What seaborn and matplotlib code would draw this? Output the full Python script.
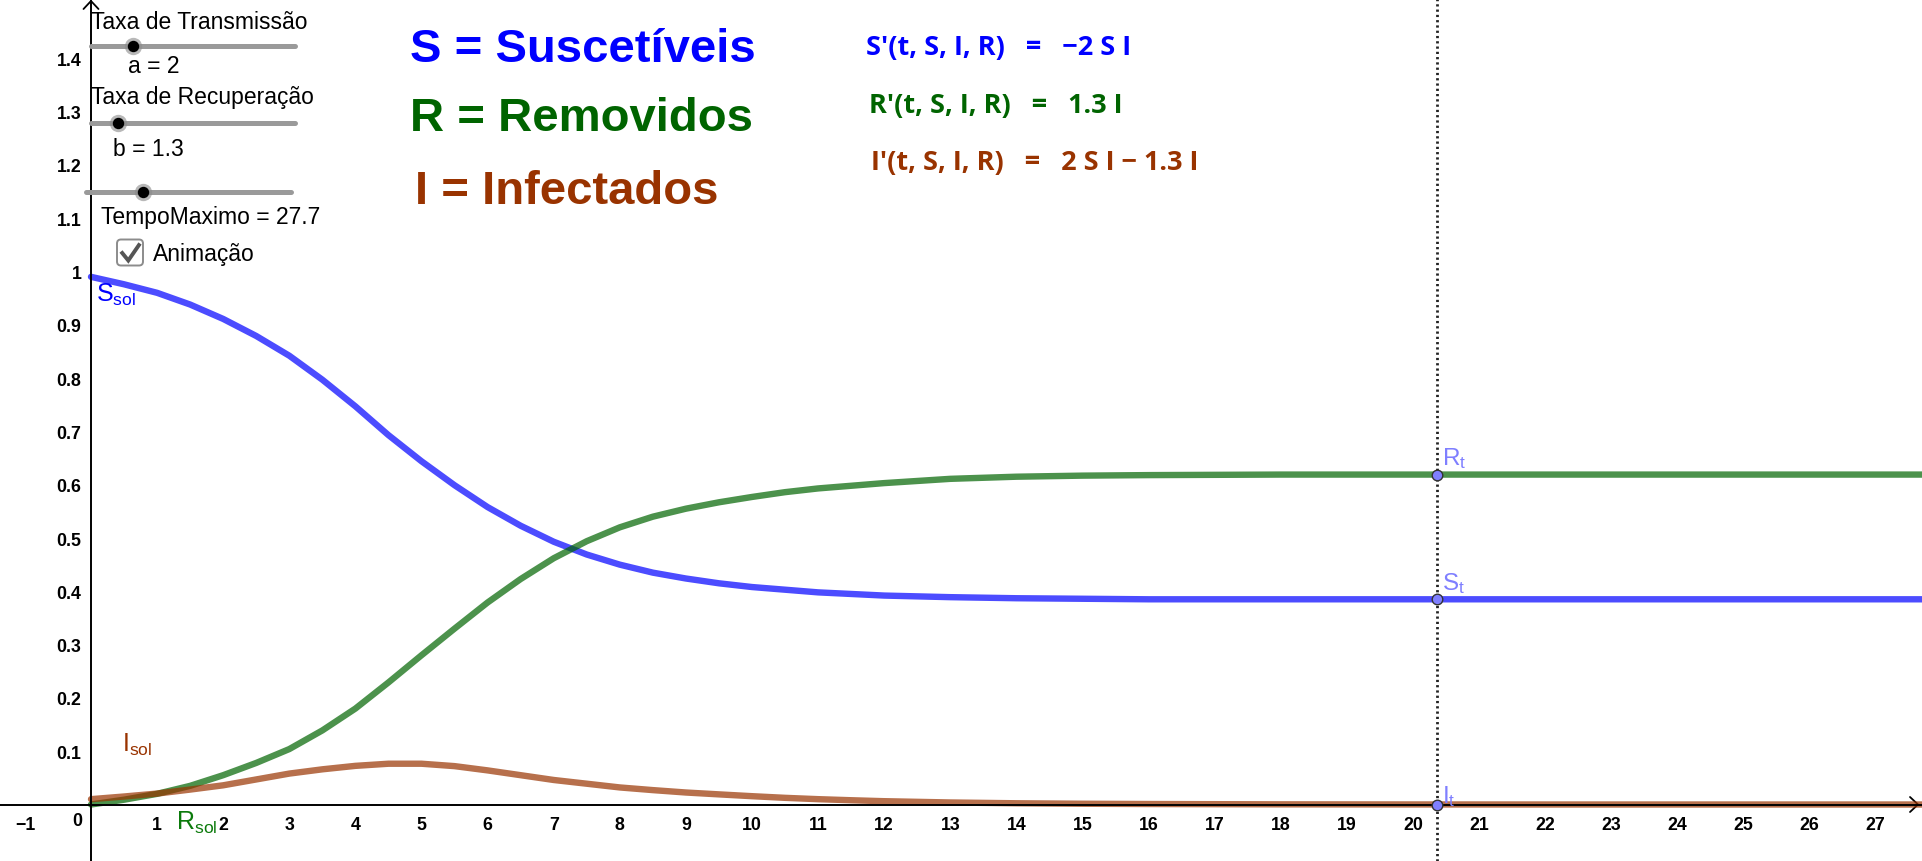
import numpy as np
import pandas as pd
import seaborn as sns
import matplotlib
matplotlib.use("Agg")
import matplotlib.pyplot as plt
from matplotlib.transforms import Affine2D
from matplotlib.patches import FancyBboxPatch

# ---------------- data ----------------
tempo = [0, 0.5, 1, 1.5, 2, 2.5, 3, 3.5, 4, 4.5, 5, 5.5, 6, 6.5, 7, 7.5, 8, 8.5,
         9, 9.5, 10, 10.5, 11, 11.5, 12, 13, 14, 15, 16, 18, 20, 22, 25, 27.7]
suscetiveis = [0.990, 0.976, 0.960, 0.938, 0.911, 0.879, 0.842, 0.797, 0.747, 0.693,
               0.644, 0.599, 0.558, 0.523, 0.493, 0.469, 0.450, 0.435, 0.424, 0.415,
               0.408, 0.403, 0.398, 0.395, 0.392, 0.389, 0.387, 0.386, 0.385, 0.385,
               0.385, 0.385, 0.385, 0.385]
infectados = [0.010, 0.015, 0.0205, 0.028, 0.036, 0.047, 0.058, 0.066, 0.0725, 0.0765,
              0.0765, 0.072, 0.064, 0.055, 0.046, 0.039, 0.032, 0.027, 0.0225, 0.019,
              0.0156, 0.0125, 0.010, 0.008, 0.0062, 0.0038, 0.0023, 0.0014, 0.0009,
              0.0003, 0.0001, 0.0, 0.0, 0.0]
removidos = [0.000, 0.009, 0.020, 0.035, 0.055, 0.078, 0.104, 0.139, 0.180, 0.229,
             0.280, 0.330, 0.379, 0.423, 0.462, 0.494, 0.520, 0.540, 0.555, 0.567,
             0.577, 0.586, 0.593, 0.598, 0.603, 0.611, 0.615, 0.617, 0.618, 0.619,
             0.619, 0.619, 0.619, 0.619]

ponto_t = [20.37]
ponto_S = [0.385]
ponto_R = [0.619]
ponto_I = [0.0]

x_ticks = [-1] + list(range(1, 28))
x_labels = ["\u22121"] + [str(v) for v in range(1, 28)]
y_ticks = [0.1, 0.2, 0.3, 0.4, 0.5, 0.6, 0.7, 0.8, 0.9, 1.0, 1.1, 1.2, 1.3, 1.4]
y_labels = ["0.1", "0.2", "0.3", "0.4", "0.5", "0.6", "0.7", "0.8", "0.9", "1",
            "1.1", "1.2", "1.3", "1.4"]

# ---------------- style ----------------
sns.set_theme(style="white")
plt.rcParams["font.family"] = ["Liberation Sans", "DejaVu Sans"]
plt.rcParams["mathtext.fontset"] = "custom"
plt.rcParams["mathtext.rm"] = "Liberation Sans"

W, H = 1922, 862
fig = plt.figure(figsize=(W / 100, H / 100), dpi=100)
ax = fig.add_axes([0, 0, 1, 1])
ax.set_facecolor("white")

X0, UX = 91.0, 66.1
Y0, UY = 805.5, 533.0
ax.set_xlim(-X0 / UX, (W - X0) / UX)
ax.set_ylim(-(H - Y0) / UY, Y0 / UY)

# pixel transform (origin top-left)
T = Affine2D().scale(1, -1).translate(0, H)

# axes through origin
for s in ["top", "right"]:
    ax.spines[s].set_visible(False)
ax.spines["left"].set_position(("data", 0))
ax.spines["bottom"].set_position(("data", 0))
for s in ["left", "bottom"]:
    ax.spines[s].set_color("black")
    ax.spines[s].set_linewidth(1.4)
ax.set_xticks(x_ticks)
ax.set_xticklabels(x_labels)
ax.set_yticks(y_ticks)
ax.set_yticklabels(y_labels)
ax.tick_params(axis="x", direction="out", length=3.5, width=1.2, color="black",
               pad=4.5, labelsize=12.8, labelcolor="black")
ax.tick_params(axis="y", direction="out", length=3.5, width=1.2, color="black",
               pad=3.5, labelsize=12.8, labelcolor="black")
for lab in ax.get_xticklabels() + ax.get_yticklabels():
    lab.set_fontweight("bold")
ax.text(77.7, 822, "0", transform=T, ha="center", va="center", fontsize=12.8,
        fontweight="bold", color="black")
# axis arrows
ax.plot([1910, 1918, 1910], [798, 805.5, 813], transform=T, color="black", lw=1.3,
        solid_joinstyle="miter", clip_on=False)
ax.plot([83.5, 91, 98.5], [10, 2, 10], transform=T, color="black", lw=1.3,
        solid_joinstyle="miter", clip_on=False)

# ---------------- curves ----------------
df = pd.DataFrame({
    "t": tempo * 3,
    "valor": suscetiveis + removidos + infectados,
    "serie": ["S"] * len(tempo) + ["R"] * len(tempo) + ["I"] * len(tempo),
})
paleta = {"S": "#0000FF", "R": "#006400", "I": "#993300"}
sns.lineplot(data=df, x="t", y="valor", hue="serie", palette=paleta, linewidth=4.6,
             alpha=0.7, legend=False, ax=ax, sort=False, estimator=None)
for ln in ax.get_lines():
    ln.set_solid_joinstyle("round")
ax.set_xlabel("")
ax.set_ylabel("")

# vertical dotted line and points
ax.axvline(ponto_t[0], color="#222222", lw=2.0, ls=(0, (0.8, 1.1)), zorder=3)
ax.plot(ponto_t * 3, ponto_R + ponto_S + ponto_I, ls="none", marker="o",
        markersize=7.6, markerfacecolor="#7F7FFF", markeredgecolor="#333333",
        markeredgewidth=1.0, zorder=5)
lab_col = "#7F7FFF"
for yb, nome in [(465, "R"), (590, "S"), (803, "I")]:
    ax.text(1442, yb, r"$\mathregular{%s_t}$" % nome, transform=T, color=lab_col,
            fontsize=17.5, ha="left", va="baseline")

# curve labels
ax.text(96, 301.5, r"$\mathregular{S_{sol}}$", transform=T, color="#0000FF",
        fontsize=18, ha="left", va="baseline")
ax.text(122, 751.5, r"$\mathregular{I_{sol}}$", transform=T, color="#993300",
        fontsize=18, ha="left", va="baseline")
ax.text(176, 830, r"$\mathregular{R_{sol}}$", transform=T, color="#0B7A0B",
        fontsize=18, ha="left", va="baseline")

# ---------------- titles ----------------
ax.text(410, 61.7, "S = Suscetíveis", transform=T, color="#0000FF", fontsize=34,
        fontweight="bold", ha="left", va="baseline")
ax.text(410, 130.7, "R = Removidos", transform=T, color="#006400", fontsize=34,
        fontweight="bold", ha="left", va="baseline")
ax.text(415, 204, "I = Infectados", transform=T, color="#993300", fontsize=34,
        fontweight="bold", ha="left", va="baseline")

eq_font = ["Open Sans", "DejaVu Sans"]
eq_kw = dict(transform=T, fontsize=19.5, fontweight="bold", family=eq_font,
             ha="left", va="baseline")
ax.text(866, 55, "S\u2032(t, S, I, R)   =   \u22122 S I", color="#0000FF", **eq_kw)
ax.text(869, 113, "R\u2032(t, S, I, R)   =   1.3 I", color="#006400", **eq_kw)
ax.text(871, 170, "I\u2032(t, S, I, R)   =   2 S I \u2212 1.3 I",
        color="#993300", **eq_kw)

# ---------------- sliders / controls ----------------
def slider(x1, x2, y, knob):
    ax.plot([x1, x2], [y, y], transform=T, color="#9A9A9A", lw=3.6,
            solid_capstyle="round", zorder=4)
    ax.plot([knob], [y], transform=T, marker="o", markersize=12.5, ls="none",
            markerfacecolor="#8A8A8A", markeredgecolor="none", alpha=0.6, zorder=5)
    ax.plot([knob], [y], transform=T, marker="o", markersize=8.2, ls="none",
            markerfacecolor="black", markeredgecolor="none", zorder=6)

ax.text(91, 29.3, "Taxa de Transmissão", transform=T, fontsize=16.5, color="black",
        ha="left", va="baseline")
slider(91, 295, 47.3, 133.3)
ax.text(128, 73.3, "a = 2", transform=T, fontsize=16.5, color="black", ha="left",
        va="baseline")
ax.text(91, 104.3, "Taxa de Recuperação", transform=T, fontsize=16.5, color="black",
        ha="left", va="baseline")
slider(91, 295, 124.3, 118.3)
ax.text(113, 156, "b = 1.3", transform=T, fontsize=16.5, color="black", ha="left",
        va="baseline")
slider(86, 290.7, 193.3, 142.7)
ax.text(101, 224, "TempoMaximo = 27.7", transform=T, fontsize=16.5, color="black",
        ha="left", va="baseline")

box = FancyBboxPatch((117, 240.5), 26, 26, boxstyle="round,pad=0,rounding_size=4",
                     transform=T, facecolor="white", edgecolor="#8C8C8C", lw=1.4,
                     zorder=5)
ax.add_patch(box)
ax.plot([121, 128.3, 140], [252.5, 261.5, 244.5], transform=T, color="#555555",
        lw=2.8, solid_capstyle="butt", solid_joinstyle="miter", zorder=6)
ax.text(152.7, 260.7, "Animação", transform=T, fontsize=16.5, color="black",
        ha="left", va="baseline")

fig.savefig("out.png", dpi=100, facecolor="white")
